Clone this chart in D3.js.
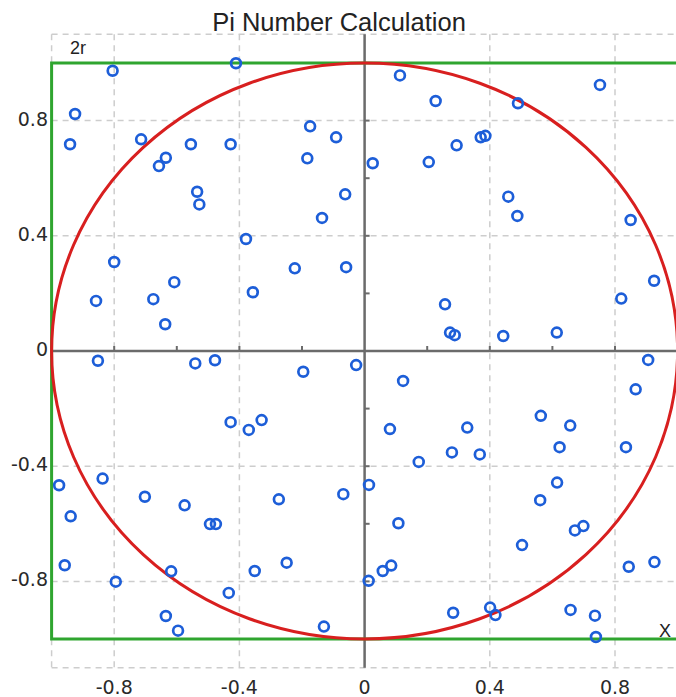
<!DOCTYPE html>
<html lang="en">
<head>
    <meta charset="UTF-8">
    <title>Pi Number Calculation</title>
    <script src="https://d3js.org/d3.v7.min.js"></script>
    <style>
        body { margin: 0; background: #fff; }
        .tick-label { font-family: "DejaVu Sans", sans-serif; font-size: 19px; fill: #2a2a2a; }
        .title { font-family: "Liberation Sans", Arial, sans-serif; font-size: 25.5px; fill: #222; }
        .note { font-family: "Liberation Sans", Arial, sans-serif; font-size: 18px; fill: #222; }
    </style>
</head>
<body>
    <div id="chart"></div>

    <script>
        // random points
        const pointX = [
            -0.805, -0.411, -0.925, -0.941, -0.714, -0.635, -0.657, -0.555, -0.428, -0.535,
            -0.528, -0.379, -0.800, -0.608, -0.858, -0.675, -0.637, -0.357, -0.174, -0.091,
            -0.183, -0.223, -0.059, -0.062, -0.136,
            0.113, 0.227, 0.026, 0.205, 0.294, 0.257, 0.273, 0.288, 0.752, 0.490,
            0.371, 0.386, 0.459, 0.488, 0.850, 0.925, 0.820, 0.443, 0.614,
            -0.852, -0.541, -0.478, -0.428, -0.370, -0.976, -0.837, -0.702, -0.575, -0.494,
            -0.475, -0.939, -0.958, -0.618, -0.795, -0.434, -0.635, -0.596, -0.196, -0.027,
            -0.329, -0.068, -0.274, -0.249, -0.351, -0.130,
            0.123, 0.081, 0.328, 0.279, 0.173, 0.014, 0.108, 0.058, 0.085, 0.013,
            0.283, 0.906, 0.866, 0.368, 0.563, 0.657, 0.623, 0.835, 0.615, 0.561,
            0.672, 0.699, 0.503, 0.844, 0.926, 0.401, 0.418, 0.658, 0.736, 0.739
        ];
        const pointY = [
            0.973, 0.999, 0.823, 0.718, 0.735, 0.671, 0.642, 0.718, 0.718, 0.553,
            0.509, 0.389, 0.309, 0.239, 0.174, 0.180, 0.093, 0.204, 0.780, 0.742,
            0.669, 0.287, 0.291, 0.544, 0.462,
            0.957, 0.868, 0.652, 0.656, 0.714, 0.162, 0.064, 0.055, 0.924, 0.860,
            0.742, 0.747, 0.536, 0.469, 0.455, 0.244, 0.182, 0.052, 0.064,
            -0.034, -0.043, -0.032, -0.247, -0.274, -0.466, -0.443, -0.506, -0.536, -0.601,
            -0.601, -0.574, -0.744, -0.765, -0.801, -0.840, -0.920, -0.971, -0.072, -0.049,
            -0.240, -0.497, -0.515, -0.735, -0.764, -0.957,
            -0.104, -0.271, -0.266, -0.352, -0.385, -0.465, -0.598, -0.764, -0.745, -0.798,
            -0.909, -0.031, -0.133, -0.359, -0.225, -0.259, -0.334, -0.334, -0.457, -0.518,
            -0.623, -0.608, -0.674, -0.749, -0.733, -0.891, -0.917, -0.899, -0.919, -0.993
        ];
        const tickValues = [-0.8, -0.4, 0, 0.4, 0.8];
        const minorTicks = [-1, -0.8, -0.6, -0.4, -0.2, 0.2, 0.4, 0.6, 0.8, 1];
        const xDomain = [-1, 1.1];
        const yDomain = [-1.1, 1.1];

        const width = 676, height = 697;

        const x = d3.scaleLinear().domain([-1, 1]).range([51.6, 677.6]);
        const y = d3.scaleLinear().domain([-1, 1]).range([639, 63]);

        const svg = d3.select("#chart")
            .append("svg")
            .attr("width", width)
            .attr("height", height);

        const plotLeft = x(xDomain[0]), plotRight = x(xDomain[1]);
        const plotTop = y(yDomain[1]), plotBottom = y(yDomain[0]);

        // dashed grid + frame
        const grid = svg.append("g")
            .attr("stroke", "#cdcdcd")
            .attr("stroke-width", 1.5)
            .attr("stroke-dasharray", "6,5");

        grid.selectAll(".vg")
            .data(tickValues.filter(d => d !== 0).concat([xDomain[0]]))
            .join("line")
            .attr("x1", d => x(d)).attr("x2", d => x(d))
            .attr("y1", plotTop).attr("y2", plotBottom);

        grid.selectAll(".hg")
            .data(tickValues.filter(d => d !== 0).concat(yDomain))
            .join("line")
            .attr("y1", d => y(d)).attr("y2", d => y(d))
            .attr("x1", plotLeft).attr("x2", plotRight);

        // center axes
        const axes = svg.append("g").attr("stroke", "#6b6b6b");
        axes.append("line")
            .attr("x1", plotLeft).attr("x2", plotRight)
            .attr("y1", y(0)).attr("y2", y(0))
            .attr("stroke-width", 2.5);
        axes.append("line")
            .attr("x1", x(0)).attr("x2", x(0))
            .attr("y1", plotTop).attr("y2", plotBottom)
            .attr("stroke-width", 2.5);

        axes.selectAll(".mx")
            .data(minorTicks)
            .join("line")
            .attr("x1", d => x(d)).attr("x2", d => x(d))
            .attr("y1", y(0)).attr("y2", y(0) - 5)
            .attr("stroke-width", 2);
        axes.selectAll(".my")
            .data(minorTicks)
            .join("line")
            .attr("y1", d => y(d)).attr("y2", d => y(d))
            .attr("x1", x(0)).attr("x2", x(0) + 5)
            .attr("stroke-width", 2);

        // square 2r x 2r
        svg.append("rect")
            .attr("x", x(-1))
            .attr("y", y(1))
            .attr("width", x(1) - x(-1))
            .attr("height", y(-1) - y(1))
            .attr("fill", "none")
            .attr("stroke", "#2fa52f")
            .attr("stroke-width", 3);

        // unit circle
        svg.append("ellipse")
            .attr("cx", x(0))
            .attr("cy", y(0))
            .attr("rx", x(1) - x(0))
            .attr("ry", y(0) - y(1))
            .attr("fill", "none")
            .attr("stroke", "#d81f1f")
            .attr("stroke-width", 3);

        // points
        svg.append("g")
            .selectAll("circle")
            .data(pointX.map((d, i) => [d, pointY[i]]))
            .join("circle")
            .attr("cx", d => x(d[0]))
            .attr("cy", d => y(d[1]))
            .attr("r", 4.9)
            .attr("fill", "none")
            .attr("stroke", "#1d5ed8")
            .attr("stroke-width", 2.7);

        // tick labels
        svg.selectAll(".xl")
            .data(tickValues)
            .join("text")
            .attr("class", "tick-label")
            .attr("x", d => x(d))
            .attr("y", 694)
            .attr("text-anchor", "middle")
            .text(d => d);

        svg.selectAll(".yl")
            .data(tickValues)
            .join("text")
            .attr("class", "tick-label")
            .attr("x", 48)
            .attr("y", d => y(d) + 5)
            .attr("text-anchor", "end")
            .text(d => d);

        svg.append("text")
            .attr("class", "title")
            .attr("x", 339)
            .attr("y", 31)
            .attr("text-anchor", "middle")
            .text("Pi Number Calculation");

        svg.append("text")
            .attr("class", "note")
            .attr("x", 70)
            .attr("y", 54)
            .text("2r");

        svg.append("text")
            .attr("class", "note")
            .attr("x", 659)
            .attr("y", 637)
            .text("X");
    </script>
</body>
</html>
